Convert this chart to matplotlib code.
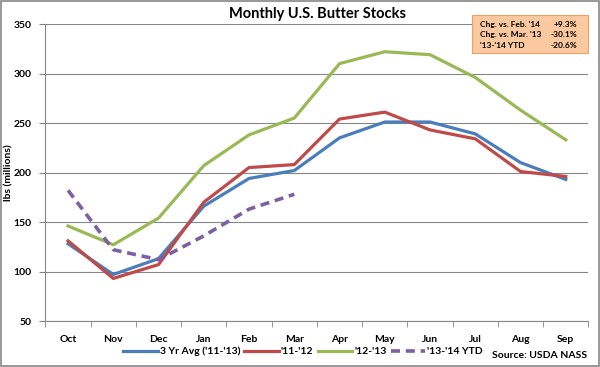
import matplotlib
matplotlib.use('Agg')
import matplotlib.pyplot as plt
from matplotlib.patches import Rectangle, FancyBboxPatch

plt.rcParams['font.family'] = ['Lato', 'DejaVu Sans']
plt.rcParams['font.weight'] = 'bold'

months = ['Oct', 'Nov', 'Dec', 'Jan', 'Feb', 'Mar', 'Apr', 'May', 'Jun', 'Jul', 'Aug', 'Sep']
avg_11_13 = [128, 97, 113, 166, 194, 202, 235, 251, 251, 239, 210, 193]
yr_11_12 = [131, 93, 107, 170, 205, 208, 254, 261, 243, 234, 201, 196]
yr_12_13 = [146, 127, 154, 207, 238, 255, 310, 322, 319, 296, 263, 233]
ytd_13_14 = [182, 122, 112, 136, 163, 178]

box_labels = ["Chg. vs. Feb. '14", "Chg. vs. Mar. '13", "'13-'14 YTD"]
box_values = ['+9.3%', '-30.1%', '-20.6%']

fig = plt.figure(figsize=(6, 3.67), dpi=100)
ax = fig.add_axes([0.0757, 0.1253, 0.905, 0.8093])

x = list(range(len(months)))
ax.plot(x, avg_11_13, color='#4a7ebb', lw=2.3, label="3 Yr Avg ('11-'13)")
ax.plot(x, yr_11_12, color='#be4b48', lw=2.3, label="'11-'12")
ax.plot(x, yr_12_13, color='#98b954', lw=2.3, label="'12-'13")
ax.plot(x[:len(ytd_13_14)], ytd_13_14, color='#7d60a0', lw=2.6, ls=(0, (2.5, 1.6)),
        label="'13-'14 YTD")

ax.set_xlim(-0.5, len(months) - 0.5)
ax.set_ylim(50, 350)
ax.set_yticks(range(50, 351, 50))
ax.set_xticks(x)
ax.set_xticklabels(months)
ax.set_xticks([i - 0.5 for i in range(len(months) + 1)], minor=True)
ax.tick_params(axis='x', which='major', length=0, pad=10, labelsize=7.5)
ax.tick_params(axis='x', which='minor', length=4, color='#868686', direction='out')
ax.tick_params(axis='y', length=4, color='#868686', labelsize=7.5, pad=6)
ax.yaxis.grid(True, color='#868686', lw=0.8)
ax.set_axisbelow(True)
for s in ['top', 'right']:
    ax.spines[s].set_visible(False)
for s in ['left', 'bottom']:
    ax.spines[s].set_color('#868686')
ax.set_ylabel('lbs (millions)', fontsize=7.5, fontweight='bold')
ax.yaxis.set_label_coords(-0.058, 0.5)

fig.text(0.529, 0.962, 'Monthly U.S. Butter Stocks', ha='center', va='center',
         fontsize=10.5, fontweight='bold')

ax.legend(loc='center', bbox_to_anchor=(0.505, 0.042), bbox_transform=fig.transFigure,
          ncol=4, frameon=False, fontsize=7.5, handlelength=3.3, handletextpad=0.2,
          columnspacing=0.4, borderpad=0)
fig.text(0.978, 0.032, 'Source: USDA NASS', ha='right', va='center', fontsize=7.5,
         fontweight='bold')

# stats box
box = FancyBboxPatch((0.787, 0.856), 0.193, 0.103, boxstyle='square,pad=0',
                     transform=fig.transFigure, facecolor='#fbc9a0',
                     edgecolor='#f0a060', lw=0.8)
fig.patches.append(box)
for i, (lab, val) in enumerate(zip(box_labels, box_values)):
    yy = 0.933 - i * 0.028
    fig.text(0.800, yy, lab, ha='left', va='center', fontsize=6)
    fig.text(0.962, yy, val, ha='right', va='center', fontsize=6)

fig.patches.append(Rectangle((0.002, 0.003), 0.996, 0.994, transform=fig.transFigure,
                             fill=False, edgecolor='#868686', lw=1.2))

fig.savefig('out.png', dpi=100)
